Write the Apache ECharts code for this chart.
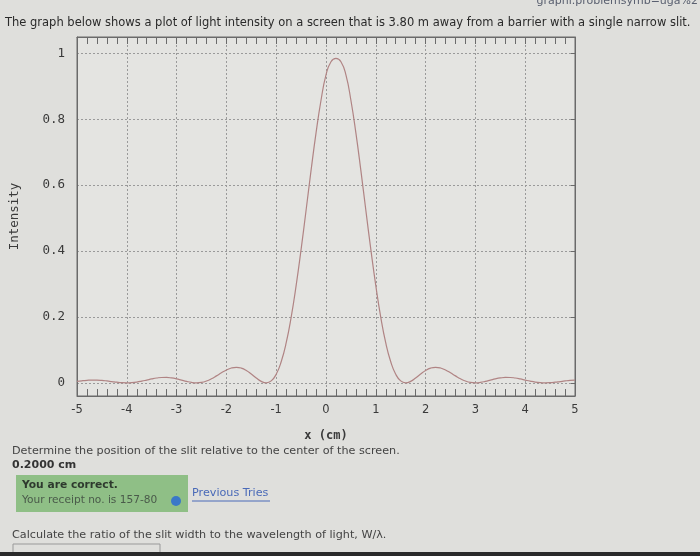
<!DOCTYPE html>
<html>
<head>
<meta charset="utf-8">
<script src="https://cdn.jsdelivr.net/npm/echarts@6/dist/echarts.min.js"></script>
<style>
html,body{margin:0;padding:0;background:#dfdfdc;}
#c{width:700px;height:556px;}
</style>
</head>
<body>
<div id="c"></div>
<script>
// Data
const xPos = [-5.0,-4.9,-4.8,-4.7,-4.6,-4.5,-4.4,-4.3,-4.2,-4.1,-4.0,-3.9,-3.8,-3.7,-3.6,-3.5,-3.4,-3.3,-3.2,-3.1,-3.0,-2.9,-2.8,-2.7,-2.6,-2.5,-2.4,-2.3,-2.2,-2.1,-2.0,-1.9,-1.8,-1.7,-1.6,-1.5,-1.4,-1.3,-1.2,-1.1,-1.0,-0.9,-0.8,-0.7,-0.6,-0.5,-0.4,-0.3,-0.2,-0.1,0.0,0.1,0.2,0.3,0.4,0.5,0.6,0.7,0.8,0.9,1.0,1.1,1.2,1.3,1.4,1.5,1.6,1.7,1.8,1.9,2.0,2.1,2.2,2.3,2.4,2.5,2.6,2.7,2.8,2.9,3.0,3.1,3.2,3.3,3.4,3.5,3.6,3.7,3.8,3.9,4.0,4.1,4.2,4.3,4.4,4.5,4.6,4.7,4.8,4.9,5.0];
const intensity = [0.0045,0.0062,0.0075,0.0083,0.0082,0.0073,0.0057,0.0038,0.0019,0.0005,0.0,0.0006,0.0023,0.0051,0.0084,0.0118,0.0146,0.0162,0.0163,0.0148,0.0119,0.0080,0.0042,0.0012,0.0,0.0013,0.0055,0.0123,0.0211,0.0305,0.0390,0.0450,0.0472,0.0447,0.0375,0.0267,0.0146,0.0044,0.0,0.0058,0.026,0.064,0.121,0.199,0.295,0.405,0.524,0.645,0.759,0.858,0.935,0.975,0.985,0.975,0.935,0.858,0.759,0.645,0.524,0.405,0.295,0.199,0.121,0.064,0.026,0.0058,0.0,0.0044,0.0146,0.0267,0.0375,0.0447,0.0472,0.0450,0.0390,0.0305,0.0211,0.0123,0.0055,0.0013,0.0,0.0012,0.0042,0.0080,0.0119,0.0148,0.0163,0.0162,0.0146,0.0118,0.0084,0.0051,0.0023,0.0006,0.0,0.0005,0.0019,0.0038,0.0057,0.0073,0.0082];
const yTicks = [0, 0.2, 0.4, 0.6, 0.8, 1];
const xTitle = 'x (cm)';
const yTitle = 'Intensity';

const pts = xPos.map((x, i) => [x, intensity[i]]);
const mono = '"DejaVu Sans Mono", monospace';
const sans = '"DejaVu Sans", sans-serif';
const txt = '#3a3a3a';

const chart = echarts.init(document.getElementById('c'), null, {renderer: 'canvas'});
chart.setOption({
  backgroundColor: '#dfdfdc',
  animation: false,
  grid: {left: 77, right: 125, top: 37, bottom: 160, show: true, backgroundColor: '#e4e4e1', borderColor: '#6a6a6a', borderWidth: 1},
  xAxis: [{
    type: 'value', min: -5, max: 5, interval: 1, position: 'bottom',
    name: xTitle, nameLocation: 'middle', nameGap: 34,
    nameTextStyle: {fontFamily: mono, fontSize: 12, color: txt, fontWeight: 'bold'},
    axisLine: {show: true, onZero: false, lineStyle: {color: '#6a6a6a'}},
    axisTick: {show: true, inside: true, length: 7, lineStyle: {color: '#6a6a6a'}},
    minorTick: {show: true, splitNumber: 5, length: 7, lineStyle: {color: '#6a6a6a'}},
    axisLabel: {fontFamily: sans, fontSize: 11.5, color: txt, margin: 8},
    splitLine: {show: true, lineStyle: {type: [2, 2], color: '#9a9a9a'}}
  }, {
    type: 'value', min: -5, max: 5, interval: 1, position: 'top',
    axisLine: {show: true, onZero: false, lineStyle: {color: '#6a6a6a'}},
    axisTick: {show: true, inside: true, length: 7, lineStyle: {color: '#6a6a6a'}},
    minorTick: {show: true, splitNumber: 5, length: 7, lineStyle: {color: '#6a6a6a'}},
    axisLabel: {show: false},
    splitLine: {show: false}
  }],
  yAxis: [{
    type: 'value', min: -0.04, max: 1.05,
    name: yTitle, nameLocation: 'middle', nameGap: 56, nameRotate: 90,
    nameTextStyle: {fontFamily: mono, fontSize: 12.5, color: txt},
    axisLine: {show: true, onZero: false, lineStyle: {color: '#6a6a6a'}},
    axisTick: {show: false, customValues: yTicks},
    axisLabel: {fontFamily: mono, fontSize: 12.5, color: txt, margin: 12, customValues: yTicks},
    splitLine: {show: true, lineStyle: {type: [2, 2], color: '#9a9a9a'}}
  }, {
    type: 'value', min: -0.04, max: 1.05, position: 'right',
    axisLine: {show: true, onZero: false, lineStyle: {color: '#6a6a6a'}},
    axisTick: {show: true, inside: true, length: 4, customValues: yTicks, lineStyle: {color: '#6a6a6a'}},
    axisLabel: {show: false},
    splitLine: {show: false}
  }],
  series: [{
    type: 'line', data: pts, smooth: true, showSymbol: false,
    lineStyle: {color: '#b08484', width: 1.2}
  }],
  graphic: [
    {type: 'text', left: 5, top: 17, style: {text: 'The graph below shows a plot of light intensity on a screen that is 3.80 m away from a barrier with a single narrow slit.', font: '11.5px ' + sans, fill: '#2a2a2a'}},
    {type: 'text', right: 2, top: -4, style: {text: 'graphi.problemsymb=uga%2', font: '11px ' + sans, fill: '#5a6070'}},
    {type: 'text', left: 12, top: 446, style: {text: 'Determine the position of the slit relative to the center of the screen.', font: '11.2px ' + sans, fill: '#444'}},
    {type: 'text', left: 12, top: 460, style: {text: '0.2000 cm', font: 'bold 11px ' + sans, fill: '#333'}},
    {type: 'rect', shape: {x: 16, y: 475, width: 172, height: 37}, style: {fill: '#8fbf86'}},
    {type: 'text', left: 22, top: 480, style: {text: 'You are correct.', font: 'bold 10.7px ' + sans, fill: '#2e3a2e'}},
    {type: 'text', left: 22, top: 495, style: {text: 'Your receipt no. is 157-80', font: '10.6px ' + sans, fill: '#4a5a4a'}},
    {type: 'circle', shape: {cx: 176, cy: 501, r: 5}, style: {fill: '#3a78c8'}},
    {type: 'text', left: 192, top: 488, style: {text: 'Previous Tries', font: '11.2px ' + sans, fill: '#4a6ab8'}},
    {type: 'line', shape: {x1: 192, y1: 501, x2: 270, y2: 501}, style: {stroke: '#4a6ab8', lineWidth: 1}},
    {type: 'text', left: 12, top: 530, style: {text: 'Calculate the ratio of the slit width to the wavelength of light, W/λ.', font: '11.2px ' + sans, fill: '#444'}},
    {type: 'rect', shape: {x: 13, y: 544, width: 147, height: 12}, style: {fill: 'none', stroke: '#999', lineWidth: 1}},
    {type: 'rect', shape: {x: 0, y: 552, width: 700, height: 4}, style: {fill: '#2a2a2a'}}
  ]
});
</script>
</body>
</html>
